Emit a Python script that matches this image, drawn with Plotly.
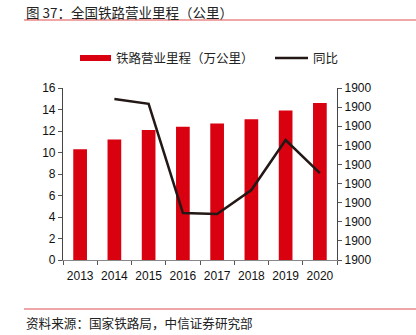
import plotly.graph_objects as go

years = ["2013", "2014", "2015", "2016", "2017", "2018", "2019", "2020"]
mileage = [10.3, 11.2, 12.1, 12.4, 12.7, 13.1, 13.9, 14.6]
yoy_years = ["2014", "2015", "2016", "2017", "2018", "2019", "2020"]
yoy = [8.43, 8.17, 2.46, 2.41, 3.66, 6.28, 4.55]
left_ticks = [0, 2, 4, 6, 8, 10, 12, 14, 16]
right_tickvals = list(range(0, 10))
right_ticktext = ["1900"] * 10

RED = "#D9000F"
CJK = "Noto Sans CJK SC"
NUM = "Liberation Sans, Arial"
W, H = 416, 335
L, R, T, B = 63, 79, 88, 75

fig = go.Figure()
fig.add_trace(go.Bar(x=years, y=mileage, name="铁路营业里程（万公里）",
                     marker=dict(color=RED, line=dict(width=0)), width=0.4,
                     showlegend=False))
fig.add_trace(go.Scatter(x=yoy_years, y=yoy, name="同比", mode="lines",
                         line=dict(color="#231815", width=2.5), yaxis="y2",
                         showlegend=False))

def px_x(x):
    return (x - L) / (W - L - R)

def px_y(y):
    return (H - B - y) / (H - T - B)

shapes = [
    dict(type="line", xref="paper", yref="paper", x0=px_x(24), x1=px_x(416),
         y0=px_y(20), y1=px_y(20), line=dict(color="#E8888A", width=1.5)),
    dict(type="line", xref="paper", yref="paper", x0=px_x(24), x1=px_x(416),
         y0=px_y(309), y1=px_y(309), line=dict(color="#E8888A", width=1.5)),
    dict(type="rect", xref="paper", yref="paper", x0=px_x(80), x1=px_x(111),
         y0=px_y(61), y1=px_y(55), fillcolor=RED, line=dict(width=0)),
    dict(type="line", xref="paper", yref="paper", x0=px_x(275), x1=px_x(308),
         y0=px_y(58), y1=px_y(58), line=dict(color="#231815", width=2.5)),
]
annotations = [
    dict(text="图 37：全国铁路营业里程（公里）", xref="paper", yref="paper",
         x=px_x(24), y=px_y(12), xanchor="left", yanchor="middle", showarrow=False,
         font=dict(family=CJK, size=13.5, color="#222")),
    dict(text="铁路营业里程（万公里）", xref="paper", yref="paper",
         x=px_x(114), y=px_y(58), xanchor="left", yanchor="middle", showarrow=False,
         font=dict(family=CJK, size=12.5, color="#222")),
    dict(text="同比", xref="paper", yref="paper",
         x=px_x(311), y=px_y(58), xanchor="left", yanchor="middle", showarrow=False,
         font=dict(family=CJK, size=12.5, color="#222")),
    dict(text="资料来源：国家铁路局，中信证券研究部", xref="paper", yref="paper",
         x=px_x(24), y=px_y(322), xanchor="left", yanchor="middle", showarrow=False,
         font=dict(family=CJK, size=12.6, color="#222")),
]

axis_common = dict(showgrid=False, zeroline=False, showline=True,
                   linecolor="#888", linewidth=1.2, ticks="outside",
                   tickcolor="#555", ticklen=4,
                   tickfont=dict(family=NUM, size=12, color="#111"))

fig.update_layout(
    width=W, height=H, margin=dict(l=L, r=R, t=T, b=B),
    paper_bgcolor="white", plot_bgcolor="white",
    showlegend=False, bargap=0.6,
    xaxis=dict(**axis_common, type="category", tickson="boundaries",
               range=[-0.5, 7.5], tickangle=0, ticklabelstandoff=4),
    yaxis=dict(**axis_common, range=[0, 16], tickvals=left_ticks),
    yaxis2=dict(**axis_common, overlaying="y", side="right", range=[0, 9],
                tickvals=right_tickvals, ticktext=right_ticktext),
    shapes=shapes, annotations=annotations,
)
fig.update_yaxes(linecolor="#444")
fig.write_html("out.html")
